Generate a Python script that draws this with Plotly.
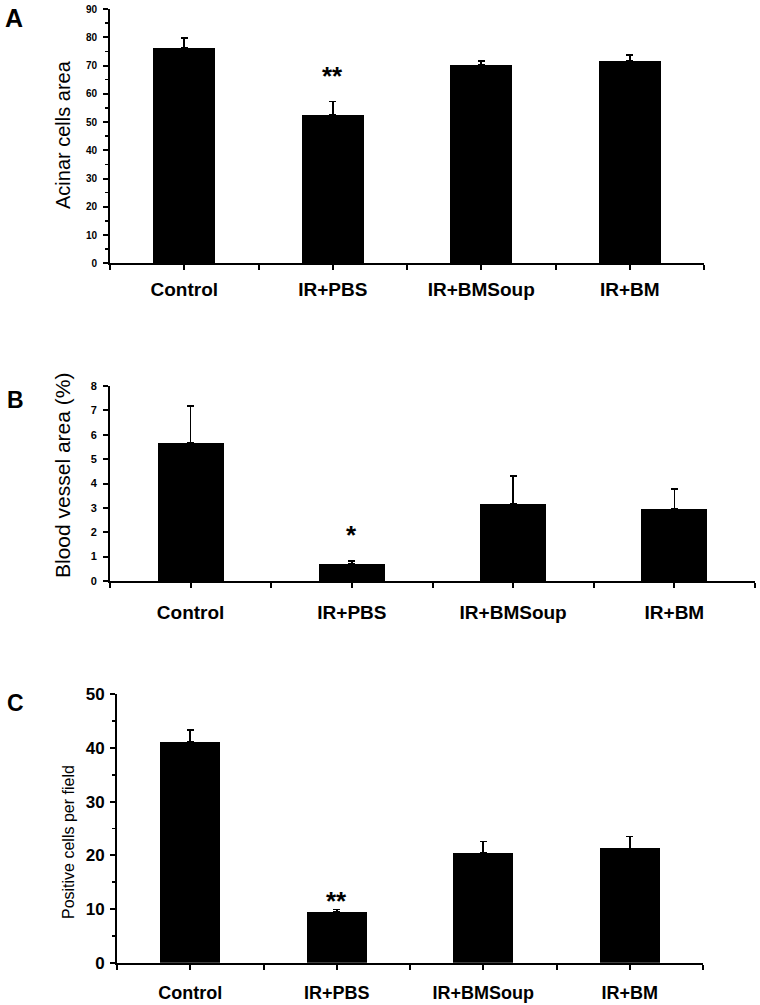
import plotly.graph_objects as go

# ---------------- data ----------------
categories = ["Control", "IR+PBS", "IR+BMSoup", "IR+BM"]

acinar_mean = [76.2, 52.6, 70.2, 71.5]
acinar_err = [3.5, 4.6, 1.3, 2.3]

vessel_mean = [5.65, 0.70, 3.15, 2.97]
vessel_err = [1.52, 0.12, 1.17, 0.80]

positive_mean = [41.2, 9.4, 20.5, 21.3]
positive_err = [2.2, 0.5, 2.1, 2.2]

sig_a = ["", "**", "", ""]
sig_b = ["", "*", "", ""]
sig_c = ["", "**", "", ""]

acinar_ticks = list(range(0, 91, 10))
vessel_ticks = list(range(0, 9, 1))
positive_ticks = list(range(0, 51, 10))

# ---------------- figure ----------------
W, H = 760, 1005
FONT = "Liberation Sans, Arial, sans-serif"
xs = list(range(len(categories)))
bounds = [i - 0.5 for i in range(len(categories) + 1)]


def px_x(p):
    return p / W


def px_y(p):
    return (H - p) / H


fig = go.Figure()

panels = [
    (acinar_mean, acinar_err, "x", "y", 0.42),
    (vessel_mean, vessel_err, "x2", "y2", 0.41),
    (positive_mean, positive_err, "x3", "y3", 0.41),
]

for means, errs, xa, ya, bw in panels:
    fig.add_trace(go.Bar(
        x=xs, y=means, width=bw,
        marker=dict(color="black", line=dict(width=0)),
        error_y=dict(type="data", array=errs, arrayminus=[0] * len(errs),
                     symmetric=False, color="black", thickness=1.6, width=3.5),
        xaxis=xa, yaxis=ya, showlegend=False, hoverinfo="skip",
    ))

annotations = []
star_cfg = [(sig_a, acinar_mean, acinar_err, "x", "y", 26, 9),
            (sig_b, vessel_mean, vessel_err, "x2", "y2", 26, 9),
            (sig_c, positive_mean, positive_err, "x3", "y3", 26, -8)]
for sig, means, errs, xa, ya, fs, ysh in star_cfg:
    for i, s in enumerate(sig):
        if s:
            annotations.append(dict(
                x=xs[i], y=means[i] + errs[i], xref=xa, yref=ya, text="<b>%s</b>" % s,
                showarrow=False, yanchor="bottom", yshift=ysh,
                font=dict(family=FONT, size=fs, color="black")))

for letter, xp, yp, fs in [("A", 14, 18, 25), ("B", 15, 400, 23), ("C", 15, 703, 23)]:
    annotations.append(dict(
        x=px_x(xp), y=px_y(yp), xref="paper", yref="paper", text="<b>%s</b>" % letter,
        showarrow=False, xanchor="center", yanchor="middle",
        font=dict(family=FONT, size=fs, color="black")))

for title, xp, yp, fs in [("Acinar cells area", 63, 134, 20),
                          ("Blood vessel area (%)", 63, 475, 21),
                          ("Positive cells per field", 68, 842, 16)]:
    annotations.append(dict(
        x=px_x(xp), y=px_y(yp), xref="paper", yref="paper", text=title,
        showarrow=False, textangle=-90, xanchor="center", yanchor="middle",
        font=dict(family=FONT, size=fs, color="black")))


def xaxis_cfg(x0, x1, fs, standoff):
    return dict(
        domain=[px_x(x0), px_x(x1)], automargin=False,
        range=[-0.5, len(categories) - 0.5], showgrid=False, zeroline=False,
        showline=True, linecolor="black", linewidth=2,
        tickmode="array", tickvals=xs, ticktext=["<b>%s</b>" % c for c in categories],
        ticks="outside", ticklen=5, tickwidth=2, tickcolor="black",
        ticklabelstandoff=standoff,
        minor=dict(tickmode="array", tickvals=bounds, ticks="outside",
                   ticklen=5, tickwidth=2, tickcolor="black", showgrid=False),
        tickfont=dict(family=FONT, size=fs, color="black"),
        fixedrange=True,
    )


def yaxis_cfg(yb, yt, rng, ticks, fs, minor_dtick=None, standoff=4):
    cfg = dict(
        domain=[px_y(yb), px_y(yt)], range=rng, showgrid=False, zeroline=False,
        automargin=False,
        showline=True, linecolor="black", linewidth=2,
        tickmode="array", tickvals=ticks, ticktext=["<b>%d</b>" % t for t in ticks],
        ticks="outside", ticklen=5, tickwidth=2, tickcolor="black",
        ticklabelstandoff=standoff,
        tickfont=dict(family=FONT, size=fs, color="black"),
        fixedrange=True,
    )
    if minor_dtick:
        cfg["minor"] = dict(dtick=minor_dtick, tick0=0, ticks="outside", ticklen=3,
                            tickwidth=1.5, tickcolor="black", showgrid=False)
    return cfg


xa1 = xaxis_cfg(110, 704, 19, 3); xa1["anchor"] = "y"
xa2 = xaxis_cfg(110, 755, 19, 8); xa2["anchor"] = "y2"
xa3 = xaxis_cfg(117, 703, 18, 8); xa3["anchor"] = "y3"

ya1 = yaxis_cfg(263.3, 9, [0, 90], acinar_ticks, 10, minor_dtick=5, standoff=4); ya1["anchor"] = "x"
ya2 = yaxis_cfg(581, 386, [0, 8], vessel_ticks, 11, standoff=4); ya2["anchor"] = "x2"
ya3 = yaxis_cfg(962.7, 694.3, [0, 50], positive_ticks, 17, minor_dtick=5, standoff=2); ya3["anchor"] = "x3"

fig.update_layout(
    template="none",
    width=W, height=H, margin=dict(l=0, r=0, t=0, b=0, pad=0, autoexpand=False),
    paper_bgcolor="white", plot_bgcolor="white", showlegend=False,
    bargap=0,
    xaxis=xa1, yaxis=ya1, xaxis2=xa2, yaxis2=ya2, xaxis3=xa3, yaxis3=ya3,
    annotations=annotations,
)

fig.write_html(
    "out.html",
    config={"displayModeBar": False, "staticPlot": True},
    post_script="document.body.style.margin='0';document.body.style.padding='0';"
                "document.documentElement.style.overflow='hidden';",
)
